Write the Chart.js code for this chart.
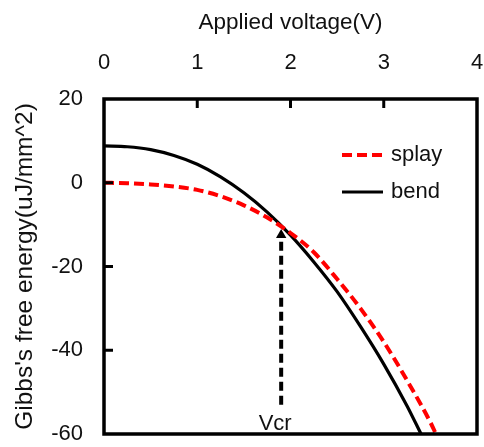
<!DOCTYPE html>
<html><head><meta charset="utf-8">
<script src="https://cdn.jsdelivr.net/npm/chart.js@4.4.1/dist/chart.umd.min.js"></script>
<style>html,body{margin:0;padding:0;background:#fff;}</style>
</head><body>
<canvas id="c" width="484" height="447" style="display:block;width:484px;height:447px"></canvas>
<script>
// ---- data ----
const voltageSplay = [0, 0.25, 0.5, 0.75, 1.0, 1.25, 1.5, 1.75, 2.0, 2.25, 2.5, 2.75, 3.0, 3.25, 3.5, 3.56];
const energySplay  = [0, -0.1, -0.4, -0.9, -1.7, -3.2, -5.4, -8.3, -12.0, -16.6, -23.0, -30.0, -38.0, -47.2, -57.2, -60];
const voltageBend  = [0, 0.25, 0.5, 0.75, 1.0, 1.25, 1.5, 1.75, 2.0, 2.25, 2.5, 2.75, 3.0, 3.25, 3.40];
const energyBend   = [8.8, 8.6, 7.9, 6.5, 4.4, 1.4, -2.4, -7.0, -12.5, -18.9, -26.0, -34.3, -43.3, -53.3, -60];
const vcrVoltage   = [1.9, 1.9];
const vcrEnergy    = [-53, -12.5];
const vcrLabel     = 'Vcr';
const seriesLabels = ['splay', 'bend'];
const xTickValues  = [0, 1, 2, 3, 4];
const yTickValues  = [-60, -40, -20, 0, 20];
const xTitle = 'Applied voltage(V)';
const yTitle = "Gibbs's free energy(uJ/mm^2)";

const FONT = 'Liberation Sans, Arial, sans-serif';
const TXT = '#111';
const toPts = (xs, ys) => xs.map((x, i) => ({x: x, y: ys[i]}));
const noPad = s => { s.paddingLeft = 0; s.paddingRight = 0; s.paddingTop = 0; s.paddingBottom = 0; };

const decor = {
  id: 'decor',
  afterDatasetsDraw(chart) {
    const ctx = chart.ctx, a = chart.chartArea;
    const xs = chart.scales.x, ys = chart.scales.y;
    ctx.save();
    // frame
    ctx.strokeStyle = '#000'; ctx.lineWidth = 3.5;
    ctx.strokeRect(a.left, a.top, a.right - a.left, a.bottom - a.top);
    // inward tick marks
    ctx.lineWidth = 3;
    xTickValues.slice(1, -1).forEach(v => {
      const px = xs.getPixelForValue(v);
      ctx.beginPath(); ctx.moveTo(px, a.top); ctx.lineTo(px, a.top + 9); ctx.stroke();
    });
    yTickValues.slice(1, -1).forEach(v => {
      const py = ys.getPixelForValue(v);
      ctx.beginPath(); ctx.moveTo(a.left, py); ctx.lineTo(a.left + 9, py); ctx.stroke();
    });
    // Vcr label
    ctx.fillStyle = TXT; ctx.font = '22px ' + FONT;
    ctx.textAlign = 'center'; ctx.textBaseline = 'alphabetic';
    ctx.fillText(vcrLabel, xs.getPixelForValue(vcrVoltage[0]) - 6, a.bottom - 4);
    // legend
    const rows = [chart.data.datasets[1], chart.data.datasets[2]];
    rows.forEach((ds, i) => {
      const y = a.top + 56 + i * 37;
      ctx.strokeStyle = ds.borderColor; ctx.lineWidth = ds.borderWidth;
      ctx.setLineDash(ds.borderDash || []);
      ctx.beginPath(); ctx.moveTo(a.right - 135, y); ctx.lineTo(a.right - 94, y); ctx.stroke();
      ctx.setLineDash([]);
      ctx.fillStyle = TXT; ctx.textAlign = 'left'; ctx.textBaseline = 'middle';
      ctx.font = '22px ' + FONT;
      ctx.fillText(ds.label, a.right - 86, y);
    });
    ctx.restore();
  }
};

new Chart(document.getElementById('c'), {
  type: 'line',
  data: {
    datasets: [
      { label: vcrLabel, data: toPts(vcrVoltage, vcrEnergy), borderColor: '#000', borderWidth: 4,
        borderDash: [9, 5], pointRadius: [0, 6], pointStyle: 'triangle', pointBackgroundColor: '#000',
        pointBorderColor: '#000', pointBorderWidth: 0, fill: false },
      { label: seriesLabels[0], data: toPts(voltageSplay, energySplay), borderColor: '#ff0000', borderWidth: 4,
        borderDash: [10, 5], pointRadius: 0, cubicInterpolationMode: 'monotone', fill: false },
      { label: seriesLabels[1], data: toPts(voltageBend, energyBend), borderColor: '#000', borderWidth: 3.2,
        pointRadius: 0, cubicInterpolationMode: 'monotone', fill: false }
    ]
  },
  options: {
    responsive: false, animation: false, devicePixelRatio: 1,
    layout: { autoPadding: false, padding: { left: 0, top: 0, right: 7, bottom: 13 } },
    plugins: { legend: { display: false }, tooltip: { enabled: false } },
    scales: {
      x: {
        type: 'linear', position: 'top', min: 0, max: 4,
        afterBuildTicks: s => { s.ticks = xTickValues.map(v => ({ value: v })); },
        ticks: { padding: 23, color: TXT, font: { family: FONT, size: 22 } },
        grid: { display: false, drawTicks: false }, border: { display: false },
        title: { display: true, text: xTitle, color: TXT, font: { family: FONT, size: 22.5 }, padding: { top: 9, bottom: 0 } },
        afterFit: s => { s.height = 99; noPad(s); }
      },
      y: {
        type: 'linear', min: -60, max: 20,
        afterBuildTicks: s => { s.ticks = yTickValues.map(v => ({ value: v })); },
        ticks: { padding: 21, color: TXT, font: { family: FONT, size: 22 } },
        grid: { display: false, drawTicks: false }, border: { display: false },
        title: { display: true, text: yTitle, color: TXT, font: { family: FONT, size: 24.5 }, padding: { top: 11, bottom: 0 } },
        afterFit: s => { s.width = 104; noPad(s); }
      }
    }
  },
  plugins: [decor]
});
</script>
</body></html>
